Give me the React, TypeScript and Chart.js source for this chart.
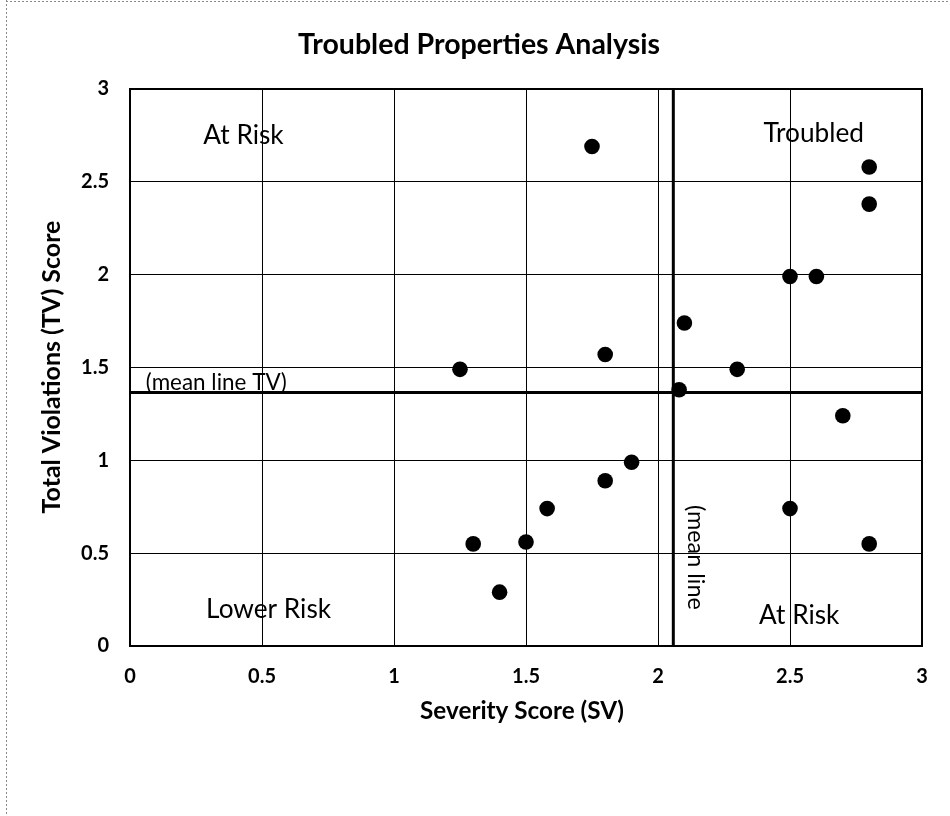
import React, { useEffect, useRef } from "react";
import { Chart, registerables } from "chart.js";

Chart.register(...registerables);

// ---- data ----
const severityScores = [1.75, 2.8, 2.8, 2.5, 2.6, 2.1, 1.8, 1.25, 2.3, 2.08, 2.7, 1.9, 1.8, 1.58, 2.5, 1.5, 1.3, 2.8, 1.4];
const violationScores = [2.69, 2.58, 2.38, 1.99, 1.99, 1.74, 1.57, 1.49, 1.49, 1.38, 1.24, 0.99, 0.89, 0.74, 0.74, 0.56, 0.55, 0.55, 0.29];
const meanSV = 2.058;
const meanTV = 1.366;
const axisMin = 0;
const axisMax = 3;
const tickStep = 0.5;

const titleText = "Troubled Properties Analysis";
const xTitle = "Severity Score (SV)";
const yTitle = "Total Violations (TV) Score";
const quadrantLabels = [
  { text: "At Risk", x: 0.43, y: 2.75 },
  { text: "Troubled", x: 2.59, y: 2.76 },
  { text: "Lower Risk", x: 0.525, y: 0.195 },
  { text: "At Risk", x: 2.535, y: 0.165 },
];
const meanTVLabel = "(mean line TV)";
const meanSVLabel = "(mean line";

const FONT = "Lato, 'Open Sans', sans-serif";

function fitFont(ctx: CanvasRenderingContext2D, text: string, width: number, weight: string) {
  let size = 20;
  ctx.font = `${weight} ${size}px ${FONT}`;
  const w = ctx.measureText(text).width;
  size = (size * width) / w;
  ctx.font = `${weight} ${size}px ${FONT}`;
  return size;
}

const overlayPlugin = {
  id: "overlay",
  beforeDraw(chart: any) {
    const ctx: CanvasRenderingContext2D = chart.ctx;
    ctx.save();
    ctx.fillStyle = "#fff";
    ctx.fillRect(0, 0, chart.width, chart.height);
    // outer dotted frame
    ctx.strokeStyle = "#888";
    ctx.lineWidth = 1;
    ctx.setLineDash([2, 2]);
    ctx.beginPath();
    ctx.moveTo(6.5, 0);
    ctx.lineTo(6.5, chart.height);
    ctx.moveTo(6, 1.5);
    ctx.lineTo(chart.width, 1.5);
    ctx.stroke();
    ctx.restore();
  },
  afterDraw(chart: any) {
    const ctx: CanvasRenderingContext2D = chart.ctx;
    const xs = chart.scales.x;
    const ys = chart.scales.y;
    const area = chart.chartArea;
    ctx.save();
    // plot frame
    ctx.strokeStyle = "#000";
    ctx.lineWidth = 2;
    ctx.strokeRect(area.left, area.top, area.right - area.left, area.bottom - area.top);

    ctx.fillStyle = "#000";
    ctx.textAlign = "center";
    ctx.textBaseline = "middle";

    // title
    fitFont(ctx, titleText, 362, "bold");
    ctx.fillText(titleText, 479, 45);

    // x axis title
    fitFont(ctx, xTitle, 204, "bold");
    ctx.fillText(xTitle, 522, 711);

    // y axis title
    ctx.save();
    ctx.translate(52, 367);
    ctx.rotate(-Math.PI / 2);
    fitFont(ctx, yTitle, 293, "bold");
    ctx.fillText(yTitle, 0, 0);
    ctx.restore();

    // quadrant labels
    const sizeQ = fitFont(ctx, "Lower Risk", 125, "normal");
    ctx.font = `normal ${sizeQ}px ${FONT}`;
    quadrantLabels.forEach((q) => {
      ctx.fillText(q.text, xs.getPixelForValue(q.x), ys.getPixelForValue(q.y));
    });

    // mean line labels
    fitFont(ctx, meanTVLabel, 141, "normal");
    ctx.textAlign = "left";
    ctx.textBaseline = "alphabetic";
    ctx.fillText(meanTVLabel, xs.getPixelForValue(0.06), ys.getPixelForValue(meanTV) - 2);

    ctx.save();
    ctx.translate(xs.getPixelForValue(meanSV) + 11, ys.getPixelForValue(0.76));
    ctx.rotate(Math.PI / 2);
    const s = fitFont(ctx, meanSVLabel, 105, "normal");
    ctx.font = `normal ${s}px ${FONT}`;
    ctx.textAlign = "left";
    ctx.textBaseline = "bottom";
    ctx.fillText(meanSVLabel, 0, 0);
    ctx.restore();

    ctx.restore();
  },
};

export default function App() {
  const canvasRef = useRef<HTMLCanvasElement | null>(null);

  useEffect(() => {
    if (!canvasRef.current) return;
    const points = severityScores.map((sv, i) => ({ x: sv, y: violationScores[i] }));
    const tickFont = { family: FONT, size: 20, weight: "bold" as const };
    const fmt = (v: any) => `${Number(v)}`;
    const chart = new Chart(canvasRef.current, {
      type: "scatter",
      data: {
        datasets: [
          {
            label: "Mean TV",
            data: [
              { x: axisMin, y: meanTV },
              { x: axisMax, y: meanTV },
            ],
            showLine: true,
            borderColor: "#000",
            borderWidth: 3,
            pointRadius: 0,
            order: 2,
          },
          {
            label: "Mean SV",
            data: [
              { x: meanSV, y: axisMin },
              { x: meanSV, y: axisMax },
            ],
            showLine: true,
            borderColor: "#000",
            borderWidth: 3,
            pointRadius: 0,
            order: 2,
          },
          {
            label: "Properties",
            data: points,
            backgroundColor: "#000",
            borderColor: "#000",
            borderWidth: 0,
            pointRadius: 7.8,
            order: 1,
          },
        ],
      },
      options: {
        animation: false,
        responsive: false,
        maintainAspectRatio: false,
        events: [],
        layout: { padding: { top: 89, right: 28, left: 0, bottom: 0 } },
        plugins: {
          legend: { display: false },
          title: { display: false },
          tooltip: { enabled: false },
        },
        scales: {
          x: {
            type: "linear",
            min: axisMin,
            max: axisMax,
            ticks: { stepSize: tickStep, color: "#000", font: tickFont, padding: 19, callback: fmt },
            grid: { color: "#000", lineWidth: 1, drawTicks: false },
            border: { color: "#000", width: 2 },
            afterFit(scale: any) {
              scale.height = 170;
            },
          },
          y: {
            type: "linear",
            min: axisMin,
            max: axisMax,
            ticks: { stepSize: tickStep, color: "#000", font: tickFont, padding: 21, callback: fmt },
            grid: { color: "#000", lineWidth: 1, drawTicks: false },
            border: { color: "#000", width: 2 },
            afterFit(scale: any) {
              scale.width = 130;
            },
          },
        },
      },
      plugins: [overlayPlugin],
    });
    return () => chart.destroy();
  }, []);

  return (
    <div style={{ position: "fixed", left: 0, top: 0, width: 950, height: 816, background: "#fff" }}>
      <canvas ref={canvasRef} width={950} height={816} style={{ width: 950, height: 816, display: "block" }} />
    </div>
  );
}
